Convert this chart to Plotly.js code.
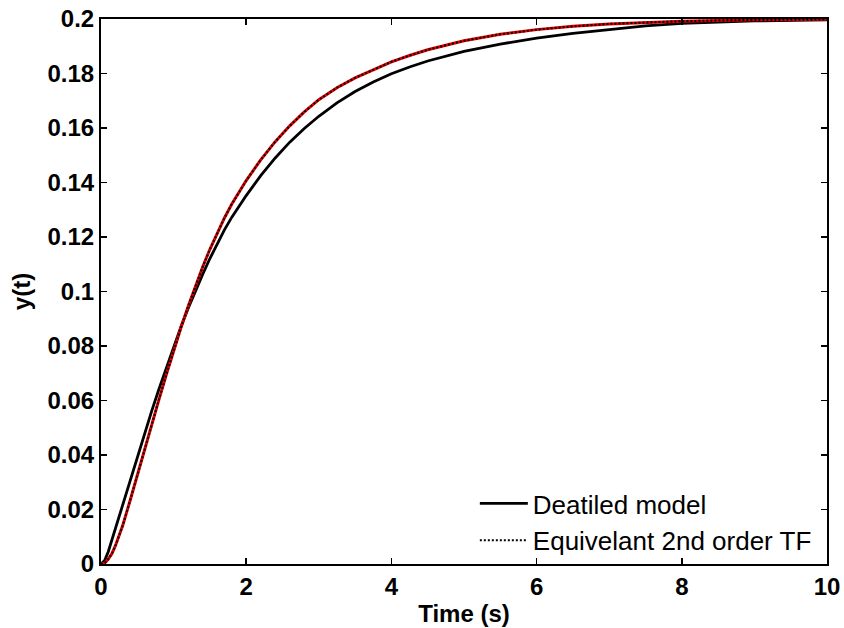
<!DOCTYPE html>
<html>
<head>
<meta charset="utf-8">
<script src="https://cdn.plot.ly/plotly-3.0.1.min.js"></script>
<style>html,body{margin:0;padding:0;background:#fff;}#chart{width:844px;height:628px;}</style>
</head>
<body>
<div id="chart"></div>
<script>
var time = [0,0.05,0.1,0.15,0.2,0.3,0.4,0.5,0.6,0.7,0.8,0.9,1.0,1.1,1.2,1.3,1.4,1.5,1.6,1.7,1.8,1.9,2.0,2.2,2.4,2.6,2.8,3.0,3.25,3.5,3.75,4.0,4.25,4.5,5.0,5.5,6.0,6.5,7.0,7.5,8.0,9.0,10.0];
var detailedModel = [0,0.0013,0.0045,0.0088,0.0135,0.0222,0.031,0.0397,0.0481,0.0563,0.0643,0.0721,0.0797,0.087,0.0938,0.1002,0.1063,0.1121,0.1175,0.1226,0.1272,0.1313,0.1352,0.1425,0.149,0.1548,0.1598,0.1643,0.1692,0.1734,0.1769,0.1799,0.1824,0.1846,0.1881,0.1908,0.193,0.1947,0.196,0.1975,0.1984,0.1993,0.1997];
var secondOrderTF = [0,0.0003,0.0018,0.0038,0.0068,0.0142,0.0232,0.0327,0.0422,0.0515,0.0605,0.0695,0.0783,0.0866,0.0945,0.102,0.109,0.1155,0.1215,0.127,0.132,0.1365,0.1407,0.1483,0.155,0.1608,0.1659,0.1704,0.1748,0.1784,0.1815,0.1843,0.1866,0.1887,0.192,0.1944,0.1961,0.1973,0.1982,0.1988,0.1992,0.1997,0.1999];
var xTicks = [0,2,4,6,8,10];
var xTickText = ['0','2','4','6','8','10'];
var yTicks = [0,0.02,0.04,0.06,0.08,0.1,0.12,0.14,0.16,0.18,0.2];
var yTickText = ['0','0.02','0.04','0.06','0.08','0.1','0.12','0.14','0.16','0.18','0.2'];
var names = ['Deatiled model','Equivelant 2nd order TF'];

var traces = [
  {x: time, y: detailedModel, mode: 'lines', name: names[0], line: {color: '#000', width: 2.8}},
  {x: time, y: secondOrderTF, mode: 'lines', name: names[1], showlegend: false, legendgroup: 'tf', line: {color: '#e00000', width: 3}},
  {x: time, y: secondOrderTF, mode: 'lines', name: names[1], legendgroup: 'tf', line: {color: '#000', width: 2, dash: '2px,2px'}}
];
var fam = 'Liberation Sans, Arial, sans-serif';
var tickFont = {family: fam, size: 24, color: '#000', weight: 'bold'};
var titleFont = {family: fam, size: 24, color: '#000', weight: 'bold'};
var layout = {
  width: 844, height: 628,
  margin: {l: 101, r: 17, t: 19, b: 64},
  paper_bgcolor: '#fff', plot_bgcolor: '#fff',
  showlegend: true,
  xaxis: {range: [0, 10], tickvals: xTicks, ticktext: xTickText, ticks: 'inside', ticklen: 6, tickwidth: 1.5, tickcolor: '#000',
    showline: true, linecolor: '#000', linewidth: 2, mirror: 'ticks', showgrid: false, zeroline: false, tickfont: tickFont,
    title: {text: 'Time (s)', font: titleFont, standoff: 6}},
  yaxis: {range: [0, 0.2], tickvals: yTicks, ticktext: yTickText, ticks: 'inside', ticklen: 6, tickwidth: 1.5, tickcolor: '#000',
    showline: true, linecolor: '#000', linewidth: 2, mirror: 'ticks', showgrid: false, zeroline: false, tickfont: tickFont,
    title: {text: 'y(t)', font: titleFont, standoff: 10}},
  legend: {x: 0.986, xanchor: 'right', y: 0, yanchor: 'bottom', bgcolor: 'rgba(0,0,0,0)', borderwidth: 0, itemwidth: 48,
    font: {family: fam, size: 26, color: '#000'}, tracegroupgap: 0}
};
Plotly.newPlot('chart', traces, layout, {displayModeBar: false, staticPlot: true});
</script>
</body>
</html>
